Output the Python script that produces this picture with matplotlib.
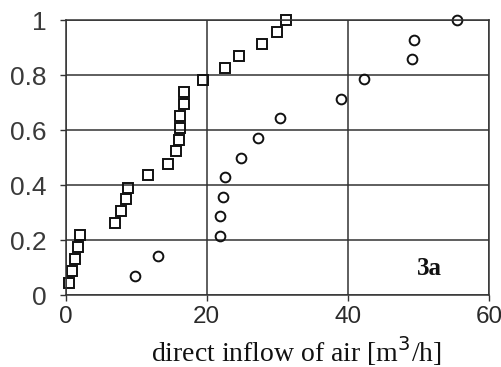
import matplotlib
matplotlib.use("Agg")
import matplotlib.pyplot as plt

# squares series
sq_x = [0.5, 0.9, 1.3, 1.7, 2.0, 7.0, 7.9, 8.6, 8.9, 11.7, 14.5, 15.6, 16.0,
        16.2, 16.2, 16.8, 16.8, 19.4, 22.6, 24.5, 27.9, 30.0, 31.2]
sq_y = [0.043, 0.087, 0.130, 0.174, 0.217, 0.261, 0.304, 0.348, 0.391, 0.435,
        0.478, 0.522, 0.565, 0.609, 0.652, 0.696, 0.739, 0.783, 0.826, 0.870,
        0.913, 0.957, 1.0]

# circles series
ci_x = [9.8, 13.1, 21.9, 21.9, 22.3, 22.6, 24.9, 27.2, 30.4, 39.1, 42.3, 49.1, 49.4, 55.5]
ci_y = [0.071, 0.143, 0.214, 0.286, 0.357, 0.429, 0.500, 0.571, 0.643, 0.714,
        0.786, 0.857, 0.929, 1.0]

xticks = [0, 20, 40, 60]
yticks = [0, 0.2, 0.4, 0.6, 0.8, 1.0]
yticklabels = ["0", "0.2", "0.4", "0.6", "0.8", "1"]

fig = plt.figure(figsize=(5.02, 3.67), dpi=100)
ax = fig.add_axes([0.1309, 0.196, 0.843, 0.7495])

ax.set_xlim(0, 60)
ax.set_ylim(0, 1)
ax.set_xticks(xticks)
ax.set_yticks(yticks)
ax.set_xticklabels([str(t) for t in xticks], family="Liberation Sans", fontsize=17.5, color="#2a2a2a")
ax.set_yticklabels(yticklabels, family="Liberation Sans", fontsize=19, color="#3a3a3a")
ax.tick_params(axis="both", direction="out", length=4.5, width=1.0, color="#333333")
ax.tick_params(axis="x", pad=3.5)
ax.tick_params(axis="y", pad=9)

ax.grid(True, color="#333333", linewidth=1.1)
ax.set_axisbelow(True)
for s in ax.spines.values():
    s.set_color("#333333")
    s.set_linewidth(1.1)

ax.plot(sq_x, sq_y, linestyle="none", marker="s", markersize=7,
        markerfacecolor="none", markeredgecolor="#111111", markeredgewidth=1.4, clip_on=False)
ax.plot(ci_x, ci_y, linestyle="none", marker="o", markersize=7,
        markerfacecolor="none", markeredgecolor="#111111", markeredgewidth=1.4, clip_on=False)

ax.text(51.5, 0.095, "3a", family="Liberation Serif", fontweight="bold", fontsize=18,
        ha="center", va="center", color="#111111")

lab = ax.set_xlabel("direct inflow of air [m$^3$/h]", family="Liberation Serif", fontsize=20,
                    color="#111111")
lab.set_va("baseline")
ax.xaxis.set_label_coords(0.546, -0.2436)

fig.savefig("out.png", dpi=100)
